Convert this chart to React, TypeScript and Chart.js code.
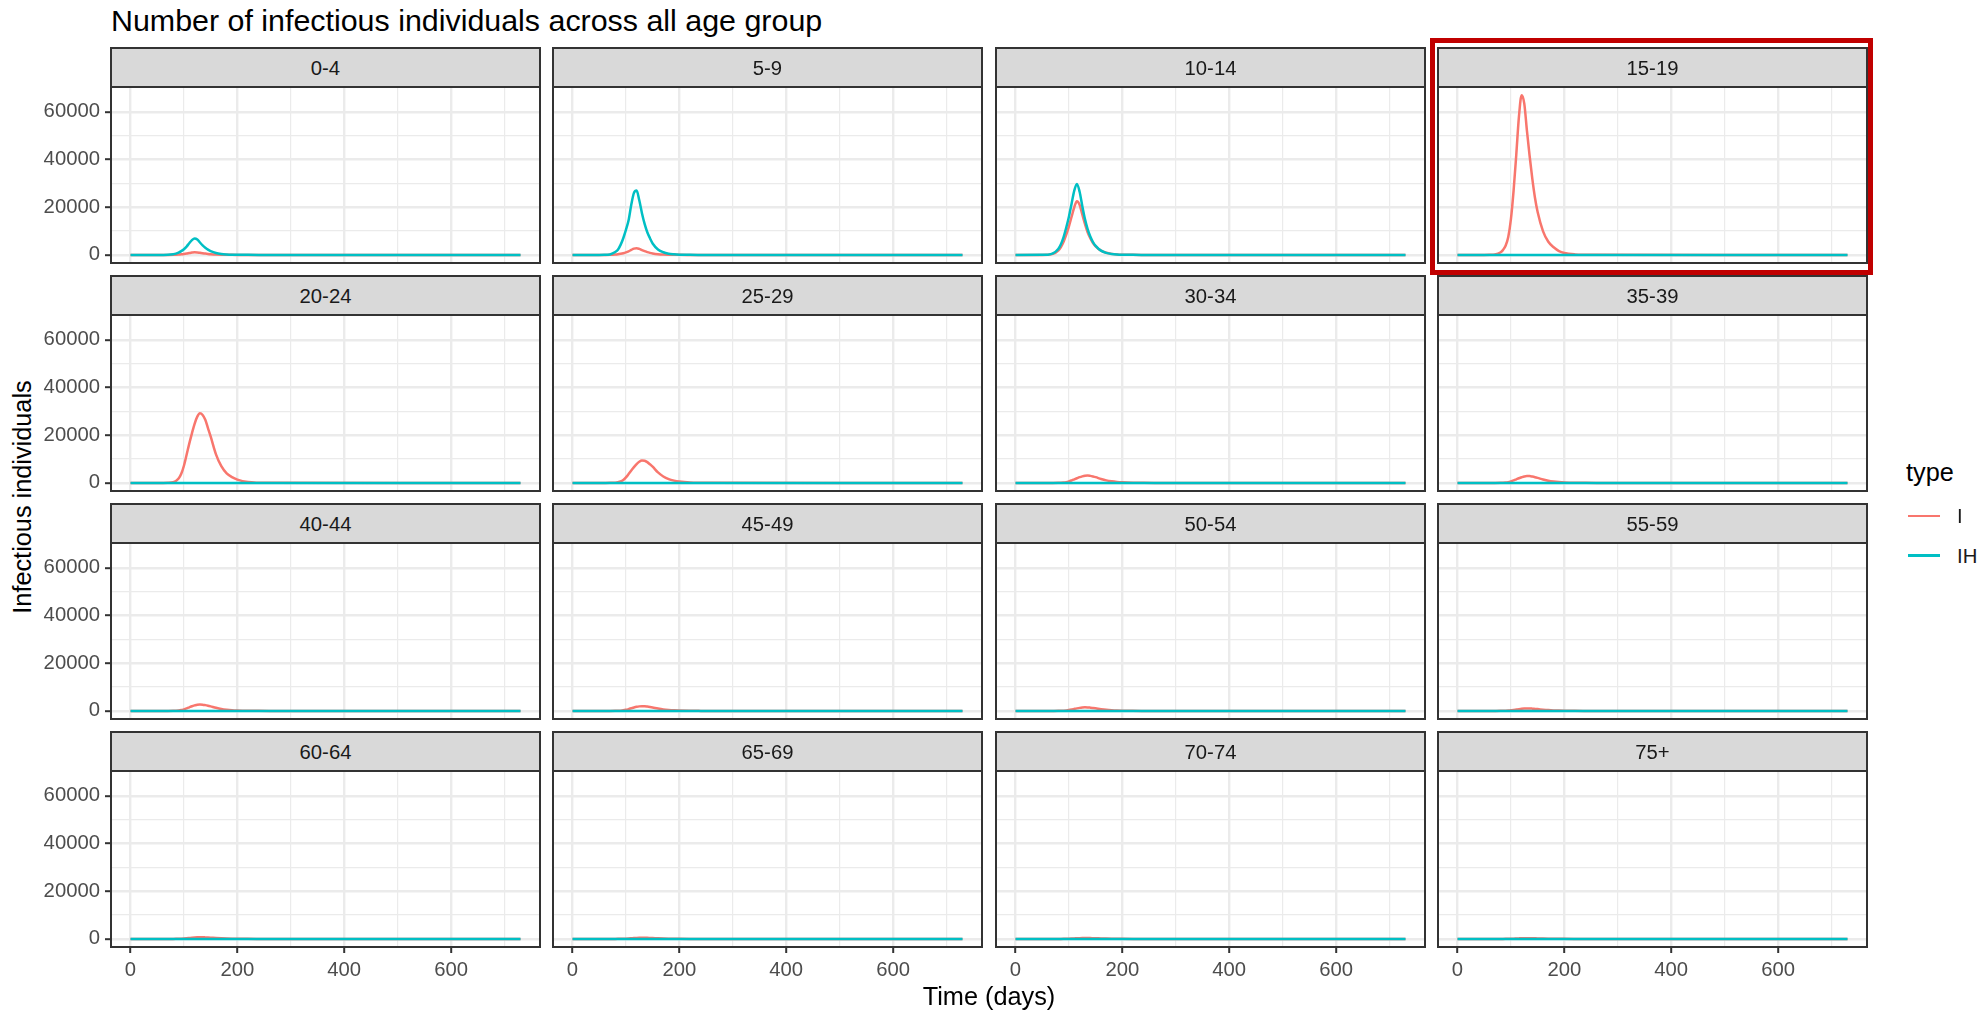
import React, { useEffect, useRef } from 'react';
import { Chart, registerables } from 'chart.js';

Chart.register(...registerables);

// ---------------- DATA ----------------
const days = [0, 50, 60, 70, 80, 85, 90, 95, 100, 105, 110, 115, 120, 125, 130, 135, 140, 145, 150, 160, 170, 180, 190, 200, 220, 240, 260, 730];

const groups = ['0-4', '5-9', '10-14', '15-19', '20-24', '25-29', '30-34', '35-39', '40-44', '45-49', '50-54', '55-59', '60-64', '65-69', '70-74', '75+'];

const I_0_4 = [0, 0, 1, 8, 45, 85, 150, 250, 380, 560, 780, 980, 1100, 1050, 880, 700, 540, 410, 310, 160, 80, 40, 20, 8, 2, 0, 0, 0];
const IH_0_4 = [0, 0, 5, 50, 280, 520, 950, 1600, 2400, 3500, 4900, 6200, 6900, 6500, 5200, 4000, 3000, 2200, 1600, 800, 400, 200, 90, 40, 10, 0, 0, 0];
const I_5_9 = [0, 0, 5, 30, 150, 260, 450, 700, 1050, 1500, 2100, 2650, 2800, 2500, 2000, 1550, 1150, 850, 620, 320, 160, 80, 40, 20, 5, 0, 0, 0];
const IH_5_9 = [0, 0, 20, 200, 1200, 2200, 4200, 7000, 10500, 14500, 21000, 26000, 27000, 22900, 17500, 13000, 9500, 7000, 4800, 2300, 1100, 500, 250, 100, 20, 5, 0, 0];
const I_10_14 = [0, 5, 50, 400, 1800, 3300, 5500, 8500, 12000, 16000, 20000, 22500, 21000, 17000, 13000, 9500, 7000, 5000, 3600, 1800, 900, 430, 200, 90, 20, 4, 0, 0];
const IH_10_14 = [0, 10, 80, 600, 2500, 4500, 7500, 11500, 16000, 21500, 27000, 29800, 26500, 20500, 15000, 10800, 7700, 5400, 3800, 1800, 850, 400, 180, 80, 15, 3, 0, 0];
const I_15_19 = [0, 0, 30, 200, 1000, 2000, 3800, 7500, 15000, 27000, 42000, 58000, 67000, 63500, 52000, 41500, 32000, 24000, 18000, 10000, 5500, 3200, 1600, 800, 200, 50, 10, 0];
const I_20_24 = [0, 0, 5, 40, 300, 800, 1800, 3800, 7200, 11800, 16500, 20800, 24800, 27800, 29200, 28500, 26500, 23000, 19500, 12000, 7000, 4000, 2400, 1400, 350, 80, 15, 0];
const I_25_29 = [0, 0, 2, 15, 100, 260, 580, 1200, 2300, 3700, 5200, 6600, 7900, 8900, 9400, 9300, 8700, 7800, 6800, 4400, 2700, 1600, 950, 550, 150, 40, 10, 0];
const I_30_34 = [0, 0, 1, 5, 30, 70, 160, 330, 640, 1050, 1500, 1950, 2400, 2750, 3000, 3100, 2950, 2700, 2400, 1650, 1050, 650, 380, 220, 60, 15, 3, 0];
const I_35_39 = [0, 0, 1, 5, 30, 70, 160, 330, 650, 1050, 1500, 1950, 2350, 2700, 2880, 2850, 2650, 2400, 2100, 1450, 900, 560, 330, 190, 50, 12, 3, 0];
const I_40_44 = [0, 0, 1, 5, 30, 70, 160, 340, 660, 1050, 1500, 1950, 2300, 2600, 2700, 2620, 2420, 2180, 1900, 1300, 820, 500, 290, 170, 45, 10, 2, 0];
const I_45_49 = [0, 0, 1, 4, 22, 50, 115, 240, 470, 760, 1090, 1420, 1700, 1900, 2000, 1950, 1800, 1620, 1420, 980, 620, 380, 220, 130, 35, 8, 2, 0];
const I_50_54 = [0, 0, 0, 3, 16, 38, 85, 180, 350, 570, 820, 1060, 1270, 1420, 1500, 1470, 1360, 1220, 1070, 740, 470, 290, 170, 100, 25, 6, 1, 0];
const I_55_59 = [0, 0, 0, 2, 11, 26, 60, 125, 245, 400, 570, 740, 890, 1000, 1050, 1030, 950, 850, 750, 520, 330, 200, 120, 70, 18, 4, 1, 0];
const I_60_64 = [0, 0, 0, 1, 7, 17, 40, 85, 165, 265, 380, 495, 595, 665, 700, 690, 635, 570, 500, 345, 220, 135, 80, 45, 12, 3, 0, 0];
const I_65_69 = [0, 0, 0, 1, 5, 12, 27, 58, 113, 182, 260, 340, 410, 455, 480, 472, 435, 390, 343, 237, 150, 92, 55, 31, 8, 2, 0, 0];
const I_70_74 = [0, 0, 0, 1, 4, 9, 21, 46, 90, 144, 206, 269, 324, 361, 380, 374, 345, 309, 272, 188, 119, 73, 43, 25, 6, 1, 0, 0];
const I_75p = [0, 0, 0, 1, 3, 7, 17, 36, 71, 114, 163, 212, 256, 285, 300, 295, 272, 244, 215, 148, 94, 58, 34, 20, 5, 1, 0, 0];
const IH_adult = [0, 0, 0, 0, 0, 0, 0, 0, 0, 0, 0, 0, 0, 0, 0, 0, 0, 0, 0, 0, 0, 0, 0, 0, 0, 0, 0, 0];

const seriesI = [I_0_4, I_5_9, I_10_14, I_15_19, I_20_24, I_25_29, I_30_34, I_35_39, I_40_44, I_45_49, I_50_54, I_55_59, I_60_64, I_65_69, I_70_74, I_75p];
const seriesIH = [IH_0_4, IH_5_9, IH_10_14, IH_adult, IH_adult, IH_adult, IH_adult, IH_adult, IH_adult, IH_adult, IH_adult, IH_adult, IH_adult, IH_adult, IH_adult, IH_adult];

const xMajor = [0, 200, 400, 600];
const xMinor = [100, 300, 500, 700];
const yMajor = [0, 20000, 40000, 60000];
const yMinor = [10000, 30000, 50000];
const xLimits = [-36.5, 766.5];
const yLimits = [-3400, 70450];

const highlighted = '15-19';

// ---------------- LAYOUT ----------------
const FONT = '"Liberation Sans", Arial, Helvetica, sans-serif';
const COL_LEFT = [111, 553, 996, 1438];
const PANEL_W = 429;
const ROW_TOP = [47, 275, 503, 731];
const STRIP_H = 40;
const PLOT_H = 176;
const PAD_L = 70;
const PAD_T = 6;
const PAD_R = 6;
const PAD_B = 45;
const COL_I = '#F8766D';
const COL_IH = '#00BFC4';

function zeroPadding(s: any) {
  s.paddingTop = 0;
  s.paddingBottom = 0;
  s.paddingLeft = 0;
  s.paddingRight = 0;
}

function Panel({ idx }: { idx: number }) {
  const ref = useRef<HTMLCanvasElement | null>(null);
  const col = idx % 4;
  const row = Math.floor(idx / 4);
  const cw = PANEL_W + PAD_L + PAD_R;
  const ch = PLOT_H + PAD_T + PAD_B;

  useEffect(() => {
    const showY = col === 0;
    const showX = row === 3;
    const boxPlugin = {
      id: 'panelBox',
      afterDatasetsDraw(chart: any) {
        const { ctx, chartArea: a } = chart;
        ctx.save();
        ctx.strokeStyle = '#333333';
        ctx.lineWidth = 2;
        ctx.strokeRect(a.left, a.top, a.right - a.left, a.bottom - a.top);
        ctx.restore();
      },
    };
    const xTicks = [...xMajor, ...xMinor].sort((a, b) => a - b);
    const yTicks = [...yMajor, ...yMinor].sort((a, b) => a - b);
    const chart = new Chart(ref.current as HTMLCanvasElement, {
      type: 'line',
      data: {
        datasets: [
          {
            label: 'IH',
            data: days.map((d, i) => ({ x: d, y: seriesIH[idx][i] })),
            borderColor: COL_IH,
            backgroundColor: COL_IH,
            borderWidth: 2.5,
            pointRadius: 0,
            cubicInterpolationMode: 'monotone',
            fill: false,
          },
          {
            label: 'I',
            data: days.map((d, i) => ({ x: d, y: seriesI[idx][i] })),
            borderColor: COL_I,
            backgroundColor: COL_I,
            borderWidth: 2.5,
            pointRadius: 0,
            cubicInterpolationMode: 'monotone',
            fill: false,
          },
        ],
      },
      options: {
        animation: false,
        responsive: false,
        devicePixelRatio: 1,
        events: [],
        layout: { padding: { top: PAD_T, right: PAD_R, left: 0, bottom: 0 } },
        plugins: { legend: { display: false }, tooltip: { enabled: false }, title: { display: false } },
        scales: {
          x: {
            type: 'linear',
            bounds: 'data',
            min: xLimits[0],
            max: xLimits[1],
            afterBuildTicks: (s: any) => {
              s.ticks = xTicks.map((v) => ({ value: v }));
            },
            afterFit: (s: any) => {
              s.height = PAD_B;
              zeroPadding(s);
            },
            ticks: {
              display: showX,
              autoSkip: false,
              maxRotation: 0,
              minRotation: 0,
              padding: 5,
              color: '#4D4D4D',
              font: { family: FONT, size: 20.3 },
              callback: (v: any) => (xMajor.includes(Number(v)) ? String(v) : ''),
            },
            grid: {
              color: '#EBEBEB',
              lineWidth: (c: any) => (c.tick && xMajor.includes(c.tick.value) ? 2.4 : 1.2),
              drawTicks: showX,
              tickLength: 6,
              tickWidth: 2,
              tickColor: (c: any) => (c.tick && xMajor.includes(c.tick.value) ? '#333333' : 'rgba(0,0,0,0)'),
            },
            border: { display: false },
          },
          y: {
            type: 'linear',
            bounds: 'data',
            min: yLimits[0],
            max: yLimits[1],
            afterBuildTicks: (s: any) => {
              s.ticks = yTicks.map((v) => ({ value: v }));
            },
            afterFit: (s: any) => {
              s.width = PAD_L;
              zeroPadding(s);
            },
            ticks: {
              display: showY,
              autoSkip: false,
              padding: 5,
              color: '#4D4D4D',
              font: { family: FONT, size: 20.3 },
              callback: (v: any) => (yMajor.includes(Number(v)) ? String(v) : ''),
            },
            grid: {
              color: '#EBEBEB',
              lineWidth: (c: any) => (c.tick && yMajor.includes(c.tick.value) ? 2.4 : 1.2),
              drawTicks: showY,
              tickLength: 6,
              tickWidth: 2,
              tickColor: (c: any) => (c.tick && yMajor.includes(c.tick.value) ? '#333333' : 'rgba(0,0,0,0)'),
            },
            border: { display: false },
          },
        },
      } as any,
      plugins: [boxPlugin],
    });
    return () => chart.destroy();
  }, [idx]);

  return (
    <canvas
      ref={ref}
      width={cw}
      height={ch}
      style={{
        position: 'absolute',
        left: COL_LEFT[col] - PAD_L,
        top: ROW_TOP[row] + STRIP_H - PAD_T,
        width: cw,
        height: ch,
      }}
    />
  );
}

export default function App() {
  return (
    <div
      style={{
        position: 'absolute',
        left: 0,
        top: 0,
        width: 1984,
        height: 1010,
        background: '#ffffff',
        overflow: 'hidden',
        fontFamily: FONT,
      }}
    >
      {groups.map((g, i) => (
        <Panel key={g} idx={i} />
      ))}
      {groups.map((g, i) => {
        const col = i % 4;
        const row = Math.floor(i / 4);
        return (
          <div
            key={'strip-' + g}
            style={{
              position: 'absolute',
              left: COL_LEFT[col] - 1,
              top: ROW_TOP[row],
              width: PANEL_W + 2,
              height: STRIP_H + 1,
              boxSizing: 'border-box',
              background: '#D9D9D9',
              border: '2px solid #333333',
              display: 'flex',
              alignItems: 'center',
              justifyContent: 'center',
              fontSize: 20.3,
              color: '#1A1A1A',
              lineHeight: 1,
              paddingTop: 2,
            }}
          >
            {g}
          </div>
        );
      })}
      {groups.map((g, i) => {
        if (g !== highlighted) return null;
        const col = i % 4;
        const row = Math.floor(i / 4);
        return (
          <div
            key={'hl-' + g}
            style={{
              position: 'absolute',
              left: COL_LEFT[col] - 8,
              top: ROW_TOP[row] - 9,
              width: PANEL_W + 14,
              height: STRIP_H + PLOT_H + 21,
              boxSizing: 'border-box',
              border: '5px solid #C00000',
            }}
          />
        );
      })}
      <div
        style={{
          position: 'absolute',
          left: 111,
          top: 5,
          fontSize: 30.4,
          lineHeight: '30px',
          color: '#000000',
          whiteSpace: 'nowrap',
        }}
      >
        Number of infectious individuals across all age group
      </div>
      <div
        style={{
          position: 'absolute',
          left: 23,
          top: 497,
          transform: 'translate(-50%, -50%) rotate(-90deg)',
          fontSize: 25.3,
          lineHeight: 1,
          color: '#000000',
          whiteSpace: 'nowrap',
        }}
      >
        Infectious individuals
      </div>
      <div
        style={{
          position: 'absolute',
          left: 989,
          top: 997,
          transform: 'translate(-50%, -50%)',
          fontSize: 25.3,
          lineHeight: 1,
          color: '#000000',
          whiteSpace: 'nowrap',
        }}
      >
        Time (days)
      </div>
      <div
        style={{
          position: 'absolute',
          left: 1906,
          top: 473,
          transform: 'translateY(-50%)',
          fontSize: 25.3,
          lineHeight: 1,
          color: '#000000',
        }}
      >
        type
      </div>
      {[
        { label: 'I', color: COL_I, y: 516 },
        { label: 'IH', color: COL_IH, y: 555.5 },
      ].map((k) => (
        <React.Fragment key={'lg-' + k.label}>
          <div
            style={{
              position: 'absolute',
              left: 1908,
              top: k.y - 1.25,
              width: 32,
              height: 2.5,
              background: k.color,
            }}
          />
          <div
            style={{
              position: 'absolute',
              left: 1957,
              top: k.y,
              transform: 'translateY(-50%)',
              fontSize: 20.3,
              lineHeight: 1,
              color: '#1A1A1A',
            }}
          >
            {k.label}
          </div>
        </React.Fragment>
      ))}
    </div>
  );
}
